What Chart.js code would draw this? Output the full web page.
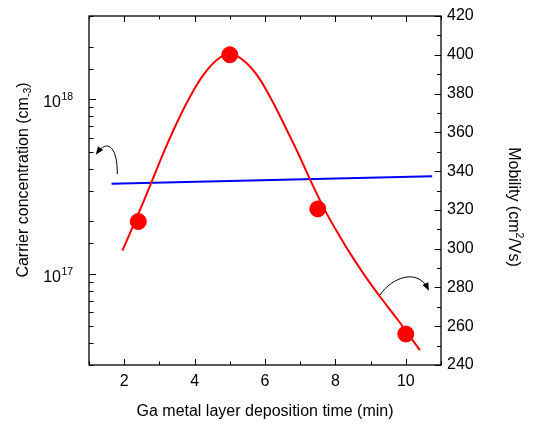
<!DOCTYPE html>
<html>
<head>
<meta charset="utf-8">
<script src="https://cdn.jsdelivr.net/npm/chart.js@4.4.1/dist/chart.umd.min.js"></script>
<style>
html, body { margin: 0; padding: 0; background: #fff; }
canvas { display: block; }
</style>
</head>
<body>
<canvas id="graf" width="533" height="426"></canvas>
<script>
// izmerjene tocke (mobilnost, desna os)
const cas_tocke = [2.4, 5.0, 7.5, 10.0];
const mobilnost_tocke = [314, 400, 320.5, 256];

// prilagojena krivulja (rdeca)
const krivulja_x = [1.95, 2.26, 2.54, 2.78, 3.11, 3.49, 3.87, 4.25, 4.63, 5.0, 5.48, 5.86, 6.24, 6.62, 6.99, 7.33, 7.75, 8.13, 8.51, 8.89, 9.27, 9.74, 10.12, 10.40];
const krivulja_y = [299.0, 312.0, 323.9, 334.5, 349.2, 364.7, 378.4, 389.6, 397.3, 400.8, 395.6, 387.2, 375.0, 361.2, 347.3, 333.7, 318.2, 306.2, 295.0, 284.7, 275.2, 264.1, 254.6, 247.7];

// koncentracija nosilcev (modra, leva os)
const koncentracija_x = [1.64, 10.75];
const koncentracija_y = [3.28e17, 3.62e17];

// oznake osi
const x_oznake = [2, 4, 6, 8, 10];
const leve_oznake = [1e17, 1e18];
const puscica_leva_x = [1.804, 1.810, 1.540, 1.227];
const puscica_leva_y = [338.5, 351.9, 357.1, 349.3];
const puscica_desna_x = [9.267, 9.608, 10.347, 10.631];
const puscica_desna_y = [276.1, 285.4, 290.0, 279.2];

let pisava = 'Liberation Sans, Arial, sans-serif';
let rdeca = 'rgb(255, 0, 0)';
let modra = 'rgb(0, 0, 255)';

function v_tocke(xs, ys) {
    return xs.map((x, i) => ({ x: x, y: ys[i] }));
}

function puscica(ctx, xs, ys, sx, sy) {
    const p = xs.map((x, i) => [sx.getPixelForValue(x), sy.getPixelForValue(ys[i])]);
    ctx.beginPath();
    ctx.moveTo(p[0][0], p[0][1]);
    ctx.bezierCurveTo(p[1][0], p[1][1], p[2][0], p[2][1], p[3][0], p[3][1]);
    ctx.stroke();
    const kot = Math.atan2(p[3][1] - p[2][1], p[3][0] - p[2][0]);
    ctx.save();
    ctx.translate(p[3][0], p[3][1]);
    ctx.rotate(kot);
    ctx.beginPath();
    ctx.moveTo(2, 0);
    ctx.lineTo(-6, -3.2);
    ctx.lineTo(-6, 3.2);
    ctx.closePath();
    ctx.fill();
    ctx.restore();
}

const okvir = {
    id: 'okvir',
    afterDraw(chart) {
        const ctx = chart.ctx;
        const a = chart.chartArea;
        const sx = chart.scales.x, sy = chart.scales.y, sy2 = chart.scales.y2;
        ctx.save();
        ctx.strokeStyle = '#000';
        ctx.fillStyle = '#000';
        ctx.lineWidth = 1.3;
        ctx.strokeRect(a.left, a.top, a.right - a.left, a.bottom - a.top);
        ctx.lineWidth = 1;
        ctx.beginPath();
        sx.ticks.forEach(t => {
            const px = Math.round(sx.getPixelForValue(t.value)) + 0.5;
            const d = t.value % 2 === 0 ? 6 : 3.5;
            ctx.moveTo(px, a.bottom); ctx.lineTo(px, a.bottom - d);
            ctx.moveTo(px, a.top); ctx.lineTo(px, a.top + d);
        });
        sy2.ticks.forEach(t => {
            const py = Math.round(sy2.getPixelForValue(t.value)) + 0.5;
            const d = t.value % 20 === 0 ? 6.5 : 4;
            ctx.moveTo(a.right, py); ctx.lineTo(a.right - d, py);
        });
        sy.ticks.forEach(t => {
            const py = Math.round(sy.getPixelForValue(t.value)) + 0.5;
            const d = leve_oznake.includes(t.value) ? 7 : 4.5;
            ctx.moveTo(a.left, py); ctx.lineTo(a.left + d, py);
        });
        ctx.stroke();

        // leve oznake 10^n
        leve_oznake.forEach(v => {
            const py = sy.getPixelForValue(v);
            const eksp = String(Math.round(Math.log10(v)));
            ctx.font = '16px ' + pisava;
            ctx.textAlign = 'right';
            ctx.textBaseline = 'middle';
            ctx.fillText('10', 61, py + 3.5);
            ctx.font = '10.5px ' + pisava;
            ctx.textAlign = 'left';
            ctx.fillText(eksp, 61.5, py - 2);
        });

        // naslovi osi
        ctx.textBaseline = 'alphabetic';
        ctx.textAlign = 'left';
        ctx.font = '16px ' + pisava;
        const naslov_x = 'Ga metal layer deposition time (min)';
        const sx_w = ctx.measureText(naslov_x).width;
        ctx.fillText(naslov_x, (a.left + a.right) / 2 - sx_w / 2, 416);

        // leva
        ctx.save();
        ctx.translate(28, 180);
        ctx.rotate(-Math.PI / 2);
        const l1 = 'Carrier concentration (cm', l2 = '-3', l3 = ')';
        ctx.font = '16px ' + pisava;
        const w1 = ctx.measureText(l1).width, w3 = ctx.measureText(l3).width;
        ctx.font = '10.5px ' + pisava;
        const w2 = ctx.measureText(l2).width;
        let zac = -(w1 + w2 + w3) / 2;
        ctx.font = '16px ' + pisava;
        ctx.fillText(l1, zac, 0);
        ctx.font = '10.5px ' + pisava;
        ctx.fillText(l2, zac + w1, 3);
        ctx.font = '16px ' + pisava;
        ctx.fillText(l3, zac + w1 + w2, 0);
        ctx.restore();

        // desna
        ctx.save();
        ctx.translate(509, 207);
        ctx.rotate(Math.PI / 2);
        const d1 = 'Mobility (cm', d2 = '2', d3 = '/Vs)';
        ctx.font = '16px ' + pisava;
        const u1 = ctx.measureText(d1).width, u3 = ctx.measureText(d3).width;
        ctx.font = '10.5px ' + pisava;
        const u2 = ctx.measureText(d2).width;
        zac = -(u1 + u2 + u3) / 2;
        ctx.font = '16px ' + pisava;
        ctx.fillText(d1, zac, 0);
        ctx.font = '10.5px ' + pisava;
        ctx.fillText(d2, zac + u1, -7);
        ctx.font = '16px ' + pisava;
        ctx.fillText(d3, zac + u1 + u2, 0);
        ctx.restore();

        // puscice
        ctx.lineWidth = 1;
        puscica(ctx, puscica_leva_x, puscica_leva_y, sx, sy2);
        puscica(ctx, puscica_desna_x, puscica_desna_y, sx, sy2);
        ctx.restore();
    }
};

const platno = document.getElementById('graf').getContext('2d');
const graf = new Chart(platno, {
    type: 'scatter',
    data: {
        datasets: [{
            label: 'meritve',
            data: v_tocke(cas_tocke, mobilnost_tocke),
            yAxisID: 'y2',
            backgroundColor: rdeca,
            borderColor: rdeca,
            pointRadius: 8,
            pointHoverRadius: 8,
            order: 0
        }, {
            label: 'krivulja',
            data: v_tocke(krivulja_x, krivulja_y),
            yAxisID: 'y2',
            showLine: true,
            borderColor: rdeca,
            borderWidth: 2,
            pointRadius: 0,
            cubicInterpolationMode: 'monotone',
            order: 1
        }, {
            label: 'koncentracija',
            data: v_tocke(koncentracija_x, koncentracija_y),
            yAxisID: 'y',
            showLine: true,
            borderColor: modra,
            borderWidth: 2,
            pointRadius: 0,
            order: 2
        }]
    },
    options: {
        responsive: false,
        animation: false,
        layout: { padding: { top: 16, left: 0, right: 0, bottom: 0 } },
        plugins: {
            legend: { display: false },
            tooltip: { enabled: false }
        },
        scales: {
            x: {
                type: 'linear',
                position: 'bottom',
                min: 1,
                max: 11,
                afterFit: s => { s.height = 61; },
                grid: { display: false, drawTicks: false },
                border: { display: false },
                ticks: {
                    stepSize: 1,
                    autoSkip: false,
                    maxRotation: 0,
                    padding: 7,
                    color: '#000',
                    font: { size: 16, family: pisava },
                    callback: v => x_oznake.includes(v) ? String(v) : ''
                }
            },
            y: {
                type: 'logarithmic',
                position: 'left',
                min: 3e16,
                max: 3e18,
                afterFit: s => { s.width = 89; },
                grid: { display: false, drawTicks: false },
                border: { display: false },
                ticks: { display: false }
            },
            y2: {
                type: 'linear',
                position: 'right',
                min: 240,
                max: 420,
                afterFit: s => { s.width = 92; },
                grid: { display: false, drawTicks: false },
                border: { display: false },
                ticks: {
                    stepSize: 10,
                    autoSkip: false,
                    padding: 6,
                    color: '#000',
                    font: { size: 16, family: pisava },
                    callback: v => v % 20 === 0 ? String(v) : ''
                }
            }
        }
    },
    plugins: [okvir]
});
</script>
</body>
</html>
